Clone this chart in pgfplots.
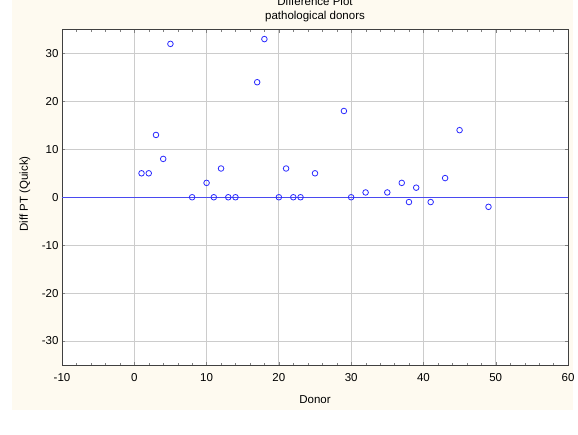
\documentclass[border=0pt]{standalone}
\usepackage{fontspec}
\setmainfont{Liberation Sans}
\usepackage{pgfplots}
\pgfplotsset{compat=1.18}
\definecolor{cream}{HTML}{FEFAF0}
\definecolor{ptblue}{HTML}{2A2AFF}
\definecolor{lineblue}{HTML}{4A4AF0}
\definecolor{framegray}{HTML}{404040}
\begin{document}
\begin{tikzpicture}[x=1pt,y=1pt]
\fill[cream] (12,24) rectangle (572.5,434);
\useasboundingbox (0,0) rectangle (578,434);
\begin{axis}[at={(62pt,69pt)},anchor=south west,scale only axis,
  width=506pt,height=335.5pt,
  xmin=-10,xmax=60,ymin=-35,ymax=35,
  xtick={-10,0,...,60},xticklabels={-10,0,10,20,30,40,50,60},
  ytick={-30,-20,-10,10,20,30},yticklabels={-30,-20,-10,10,20,30},
  extra y ticks={0},extra y tick labels={0},
  extra y tick style={major grid style={lineblue,line width=1.3pt}},
  minor x tick num=4,minor y tick num=4,
  tick align=inside,major tick length=3pt,minor tick length=2pt,
  grid=major,major grid style={color=black!20,line width=0.8pt},
  axis line style={framegray,line width=1pt},
  axis background/.style={fill=white},
  tick label style={font=\fontsize{11.5}{13}\selectfont},
  xticklabel style={yshift=-5pt},
  clip=false]
\addplot[lineblue,line width=1.3pt,mark=none] coordinates {(-10,0) (60,0)};
\addplot[only marks,mark=o,mark size=2.8pt,mark options={ptblue,line width=0.8pt}] coordinates {
 (1,5) (2,5) (3,13) (4,8) (5,32) (8,0) (10,3) (11,0) (12,6) (13,0) (14,0)
 (17,24) (18,33) (20,0) (21,6) (22,0) (23,0) (25,5) (29,18) (30,0) (32,1)
 (35,1) (37,3) (38,-1) (39,2) (41,-1) (43,4) (45,14) (49,-2)};
\end{axis}
\node[font=\fontsize{11.5}{13}\selectfont] at (315,433) {Difference Plot};
\node[font=\fontsize{11.5}{13}\selectfont] at (315,417) {pathological donors};
\node[font=\fontsize{11.5}{13}\selectfont] at (315,34) {Donor};
\node[font=\fontsize{11.5}{13}\selectfont,rotate=90] at (25,240) {Diff PT (Quick)};
\end{tikzpicture}
\end{document}
